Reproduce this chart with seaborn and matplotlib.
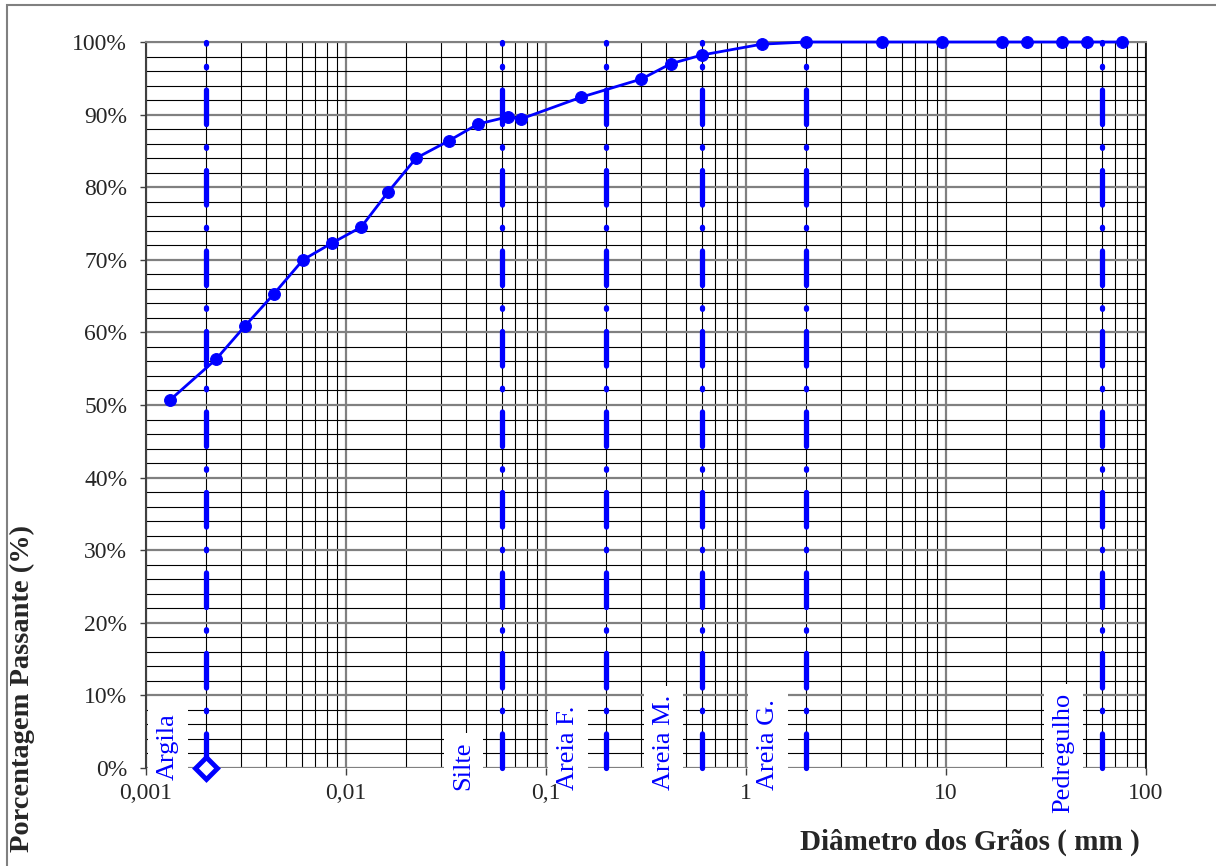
import matplotlib
matplotlib.use('Agg')
import matplotlib.pyplot as plt
import matplotlib.ticker as mticker
from matplotlib.patches import Rectangle
from matplotlib.transforms import ScaledTranslation
import seaborn as sns
import pandas as pd

# curva granulométrica: diâmetro (mm) x porcentagem passante
diametro = [0.00132, 0.00224, 0.00313, 0.00436, 0.0061, 0.0085, 0.0119, 0.0162,
            0.0224, 0.0327, 0.0457, 0.0646, 0.075, 0.15, 0.30, 0.42, 0.60, 1.2,
            2.0, 4.8, 9.5, 19.0, 25.4, 38.0, 50.8, 76.2]
passante = [50.7, 56.3, 60.9, 65.3, 70.0, 72.3, 74.5, 79.3, 84.0, 86.4, 88.7,
            89.7, 89.4, 92.4, 94.9, 97.0, 98.2, 99.7, 100, 100, 100, 100, 100,
            100, 100, 100]

# limites das frações (NBR 6502)
limites = [0.002, 0.06, 0.2, 0.6, 2.0, 60.0]
fracoes = ['Argila', 'Silte', 'Areia F.', 'Areia M.', 'Areia G.', 'Pedregulho']

x_ticks = [0.001, 0.01, 0.1, 1, 10, 100]
x_ticklabels = ['0,001', '0,01', '0,1', '1', '10', '100']

# posição vertical (base) dos rótulos, em %
rotulo_base = [-1.6, -3.0, -3.0, -3.0, -3.0, -6.2]

df = pd.DataFrame({'d': diametro, 'p': passante})

sns.set_style('white')
plt.rcParams['font.family'] = ['Liberation Serif', 'DejaVu Serif']

fig = plt.figure(figsize=(12.16, 8.66), dpi=100)
ax = fig.add_axes([146 / 1216, 98 / 866, 1000 / 1216, 726 / 866])

ax.set_xscale('log')
ax.set_xlim(0.001, 100)
ax.set_ylim(0, 100)

# grade
ax.xaxis.set_major_locator(mticker.FixedLocator(x_ticks))
ax.xaxis.set_minor_locator(mticker.LogLocator(base=10, subs=range(2, 10), numticks=30))
ax.yaxis.set_major_locator(mticker.MultipleLocator(10))
ax.yaxis.set_minor_locator(mticker.MultipleLocator(2))
ax.yaxis.set_major_formatter(mticker.FuncFormatter(lambda v, p: f'{v:.0f}%'))
ax.grid(which='major', color='#808080', lw=1.6)
ax.grid(which='minor', color='black', lw=0.8)
ax.set_axisbelow(True)

ax.tick_params(axis='x', which='both', bottom=False, labelbottom=False)
ax.tick_params(axis='y', which='major', left=True, length=4.5, width=1, pad=9,
               labelsize=17, color='#404040')
ax.tick_params(axis='y', which='minor', left=False)

ax.spines['left'].set_color('#404040')
ax.spines['left'].set_linewidth(1.5)
ax.spines['top'].set_color('#808080')
ax.spines['top'].set_linewidth(1.5)
ax.spines['right'].set_color('black')
ax.spines['right'].set_linewidth(1.2)
ax.spines['bottom'].set_visible(False)

# eixo x de rótulos (acima das caixas brancas)
sec = ax.secondary_xaxis('bottom')
sec.set_ticks(x_ticks, labels=x_ticklabels)
sec.xaxis.set_minor_locator(mticker.NullLocator())
sec.tick_params(length=5, width=1, pad=6, labelsize=17, color='#404040')
sec.spines['bottom'].set_visible(False)
sec.set_zorder(10)

# linhas dos limites das frações
for i, (lim, nome) in enumerate(zip(limites, fracoes)):
    ax.plot([lim, lim], [0, 100], color='blue', lw=3.8,
            linestyle=(0, (6.55, 4.2, 0.3, 4.2)), dash_capstyle='round',
            zorder=4, clip_on=False)
    off = ScaledTranslation(-0.38, 0, fig.dpi_scale_trans)
    ax.text(lim, rotulo_base[i], nome, rotation=90, ha='center', va='bottom',
            color='blue', fontsize=19, transform=ax.transData + off,
            zorder=3, clip_on=False,
            bbox=dict(boxstyle='square,pad=0.33', fc='white', ec='none'))

ax.plot([limites[0]], [0], marker='D', markersize=11.5, mfc='white', mec='blue',
        mew=3.5, zorder=6, clip_on=False, ls='none')

# curva
sns.lineplot(data=df, x='d', y='p', ax=ax, sort=False, color='blue', lw=2,
             marker='o', markersize=8.5, markeredgecolor='blue', zorder=5,
             clip_on=False)
ax.set_xlabel('')
ax.set_ylabel('')

fig.text(1140 / 1216, 1 - 842 / 866, 'Diâmetro dos Grãos ( mm )', ha='right',
         va='center', fontsize=21, fontweight='bold')
fig.text(22 / 1216, 1 - 688 / 866, 'Porcentagem Passante (%)', ha='center',
         va='center', rotation=90, fontsize=20.5, fontweight='bold')

fig.add_artist(Rectangle((7 / 1216, -0.05), 1.2, 1 - 5 / 866 + 0.05,
                         transform=fig.transFigure, fill=False,
                         edgecolor='#808080', lw=1.5))

fig.savefig('out.png', dpi=100)
